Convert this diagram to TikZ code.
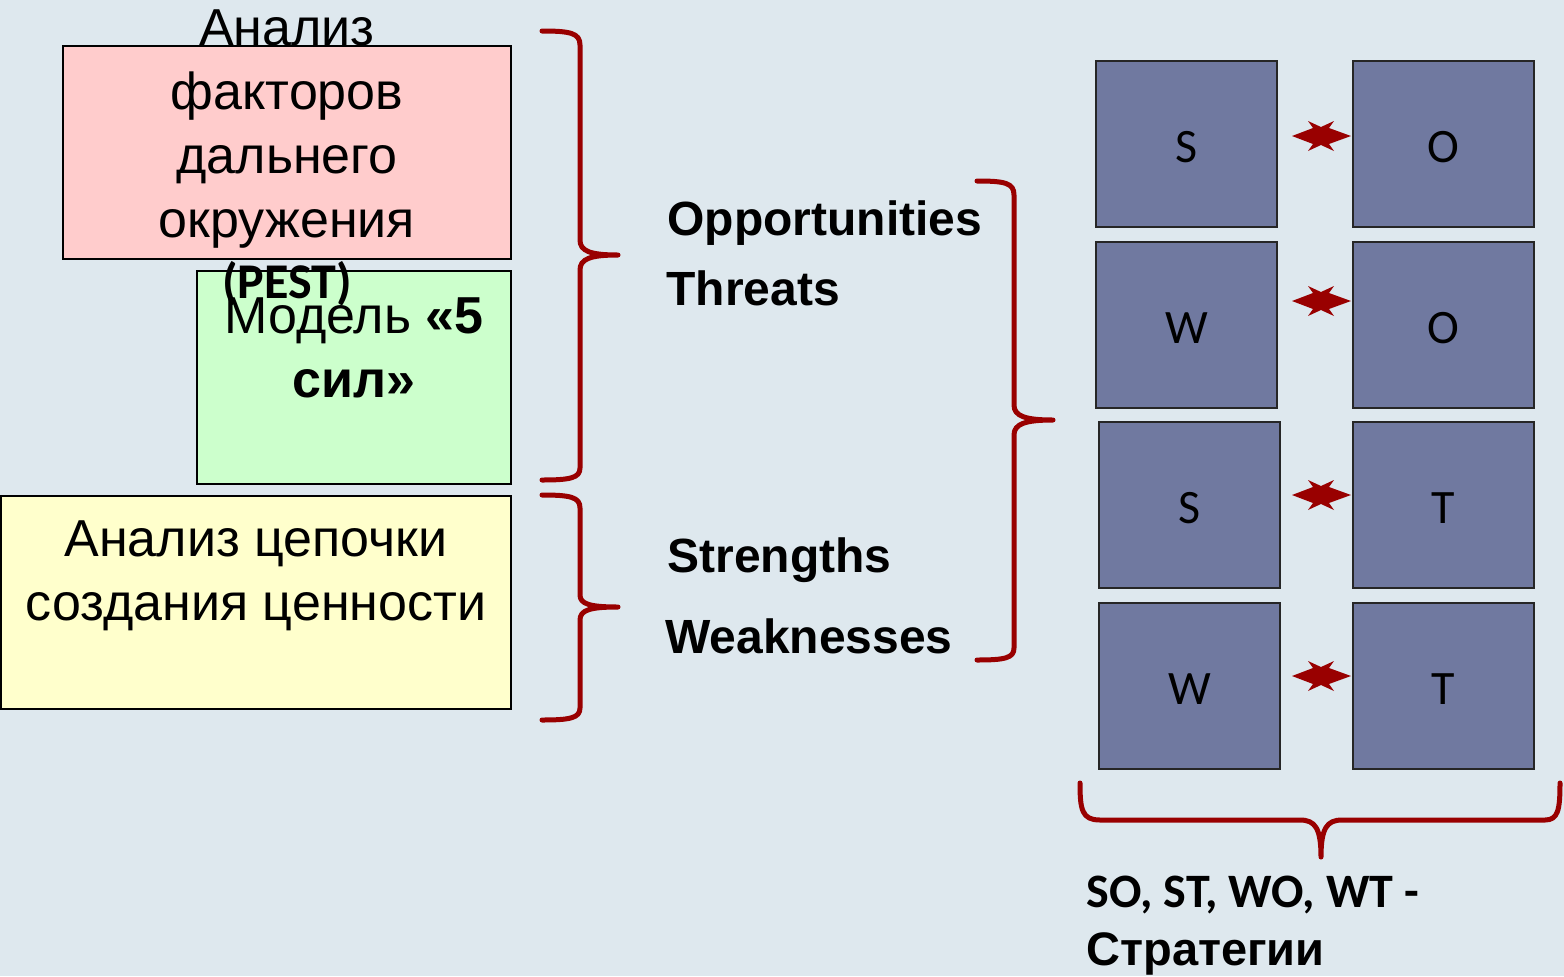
\documentclass[tikz,border=0pt]{standalone}
\usepackage{fontspec}
\setmainfont{Liberation Sans}
\newfontfamily\calfont{Carlito}
\usetikzlibrary{arrows.meta}
\definecolor{bg}{HTML}{DEE8EE}
\definecolor{bred}{HTML}{990000}
\definecolor{pinkf}{HTML}{FFCCCC}
\definecolor{greenf}{HTML}{CCFFCC}
\definecolor{yellowf}{HTML}{FFFFCC}
\definecolor{gridf}{HTML}{7079A0}
\begin{document}
\begin{tikzpicture}[x=0.5pt,y=-0.5pt,
  box/.style={draw=black, line width=0.75pt, anchor=north west, minimum height=106.5pt, inner sep=0pt, outer sep=0pt},
  cell/.style={draw=black!85, fill=gridf, line width=1pt, anchor=north west, minimum width=90.5pt, minimum height=83pt, inner sep=0pt, outer sep=0pt, text height=18.5pt, text depth=0pt, font=\calfont\fontsize{24}{28}\selectfont},
  bigtxt/.style={anchor=base, inner sep=0pt, font=\fontsize{26}{32}\selectfont},
  swot/.style={anchor=base west, inner sep=0pt, font=\bfseries\fontsize{24}{28}\selectfont},
  brace/.style={draw=bred, line width=2.5pt, line cap=round, line join=round},
  xstar/.pic={\fill[bred] (-29,0) -- (-8,-8) -- (-13,-15) -- (0,-9) -- (13,-15) -- (8,-8) -- (30,0)
     -- (8,8) -- (13,15) -- (0,9) -- (-13,15) -- (-8,8) -- cycle;}
]
\fill[bg] (0,0) rectangle (1564,976);
\useasboundingbox (0,0) rectangle (1564,976);

% left boxes
\node[box, fill=pinkf, minimum width=224pt] (pest) at (63,46) {};
\node[box, fill=greenf, minimum width=157pt] (five) at (197,271) {};
\node[box, fill=yellowf, minimum width=255pt] (chain) at (1,496) {};

\node[bigtxt] (t1) at (287,45) {Анализ};
\node[bigtxt] (t2) at (287,109) {факторов};
\node[bigtxt] (t3) at (287,173) {дальнего};
\node[bigtxt] (t4) at (287,237) {окружения};
\node[anchor=base, inner sep=0pt, font=\calfont\bfseries\fontsize{25}{30}\selectfont] (t5) at (287,298) {(PEST)};

\node[bigtxt] (f1) at (354,333) {Модель \textbf{«5}};
\node[bigtxt, font=\bfseries\fontsize{26}{32}\selectfont] (f2) at (354,397) {сил»};

\node[bigtxt] (c1) at (256,556) {Анализ цепочки};
\node[bigtxt] (c2) at (256,620) {создания ценности};

% left braces
\draw[brace] (542,31) .. controls (570,31) and (580,33) .. (580,45) -- (580,240)
  .. controls (580,251) and (590,255) .. (618,255)
  .. controls (590,255) and (580,259) .. (580,270) -- (580,468)
  .. controls (580,478) and (570,480) .. (542,480);
\draw[brace] (542,495) .. controls (570,495) and (580,497) .. (580,508) -- (580,595)
  .. controls (580,604) and (590,607) .. (618,607)
  .. controls (590,607) and (580,610) .. (580,620) -- (580,708)
  .. controls (580,718) and (570,720) .. (542,720);

% SWOT words
\node[swot] (opp) at (667,235) {Opportunities};
\node[swot] (thr) at (666,305) {Threats};
\node[swot] (str) at (667,572) {Strengths};
\node[swot] (wea) at (665,653) {Weaknesses};

% right brace
\draw[brace] (977,181) .. controls (1005,181) and (1014,183) .. (1014,195) -- (1014,405)
  .. controls (1014,416) and (1025,420) .. (1053,420)
  .. controls (1025,420) and (1014,424) .. (1014,435) -- (1014,648)
  .. controls (1014,658) and (1005,660) .. (977,660);

% grid
\node[cell] (s1) at (1096,61) {S};
\node[cell] (o1) at (1353,61) {O};
\node[cell] (w2) at (1096,242) {W};
\node[cell] (o2) at (1353,242) {O};
\node[cell] (s3) at (1099,422) {S};
\node[cell] (t3c) at (1353,422) {T};
\node[cell] (w4) at (1099,603) {W};
\node[cell] (t4c) at (1353,603) {T};

% double arrows
\coordinate (a1) at (1321,136);
\coordinate (a2) at (1321,301);
\coordinate (a3) at (1321,495);
\coordinate (a4) at (1321,676);
\pic at (a1) {xstar};
\pic at (a2) {xstar};
\pic at (a3) {xstar};
\pic at (a4) {xstar};

% bottom brace
\draw[brace] (1080,783) .. controls (1080,810) and (1082,820) .. (1100,820) -- (1300,820)
  .. controls (1315,820) and (1321,828) .. (1321,857)
  .. controls (1321,828) and (1327,820) .. (1342,820) -- (1545,820)
  .. controls (1558,820) and (1560,810) .. (1560,783);

\node[anchor=base west, inner sep=0pt, font=\calfont\bfseries\fontsize{24}{28}\selectfont] (st1) at (1086,907) {SO, ST, WO, WT -};
\node[anchor=base west, inner sep=0pt, font=\bfseries\fontsize{23.5}{28}\selectfont] (st2) at (1086,965) {Стратегии};
\end{tikzpicture}
\end{document}
